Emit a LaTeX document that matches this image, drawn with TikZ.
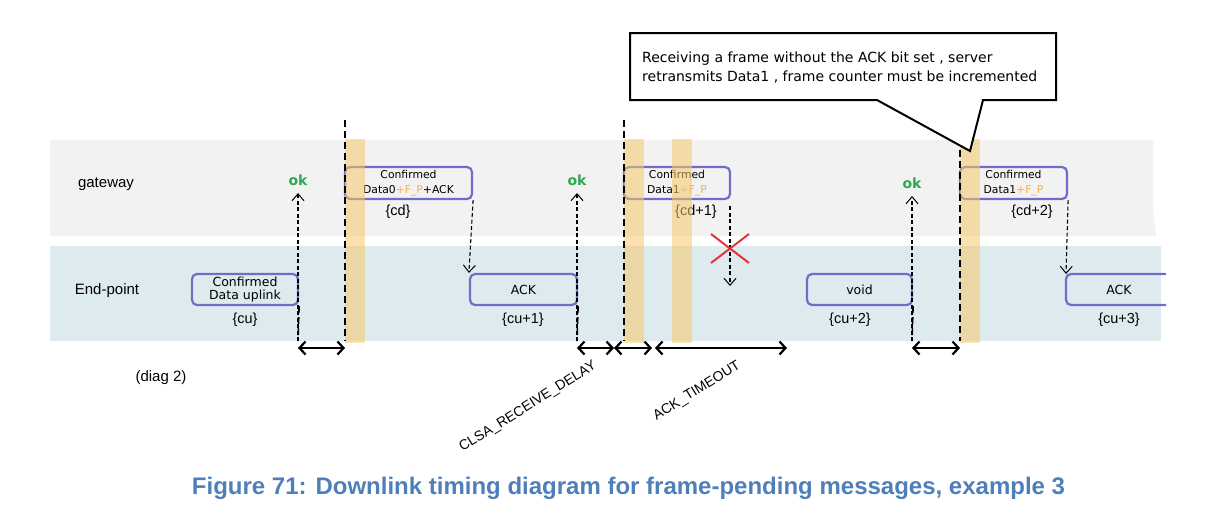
\documentclass[tikz,border=0pt]{standalone}
\usepackage{fontspec}
\setmainfont{Liberation Sans}
\newfontfamily\dv{DejaVu Sans}
\usetikzlibrary{arrows.meta}
\definecolor{bandgray}{HTML}{F2F2F2}
\definecolor{bandblue}{HTML}{DDEBEF}
\definecolor{stripecol}{HTML}{F5C86A}
\definecolor{boxblue}{HTML}{6E6EC8}
\definecolor{okgreen}{HTML}{2EA855}
\definecolor{fpcol}{HTML}{F5B04C}
\definecolor{xred}{HTML}{E8313C}
\definecolor{capblue}{HTML}{4F7FBA}
\tikzset{
  msgbox/.style={draw=boxblue, line width=2.2pt, rounded corners=5pt, inner sep=0pt,
    align=center, font=\dv\fontsize{12.5}{17}\selectfont},
  smallbox/.style={msgbox, font=\dv\fontsize{10.8}{15}\selectfont},
  cnt/.style={font=\fontsize{14.5}{17}\selectfont, inner sep=0pt},
  lane/.style={font=\fontsize{15}{18}\selectfont, inner sep=0pt},
  oklbl/.style={font=\dv\bfseries\fontsize{14}{16}\selectfont, text=okgreen, inner sep=0pt},
  stripe/.style={fill=stripecol, opacity=0.55},
  timeline/.style={line width=1.6pt, dash pattern=on 7pt off 4pt},
  msgarrow/.style={line width=1.1pt, dash pattern=on 4pt off 2.5pt, -{Straight Barb[length=7pt,width=12pt,line width=1pt]}},
  span/.style={line width=2.5pt, {Straight Barb[length=6pt,width=13pt,line width=2.2pt]}-{Straight Barb[length=6pt,width=13pt,line width=2.2pt]}},
  delaylbl/.style={font=\fontsize{14}{16}\selectfont, inner sep=0pt, rotate=32},
  crossline/.style={draw=xred, line width=2pt}
}
\newcommand{\fp}{\textcolor{fpcol}{+F\_P}}
\begin{document}
\begin{tikzpicture}[x=1pt,y=-1pt]
\useasboundingbox (0,0) rectangle (1214,520);
% bands
\fill[bandgray] (50,140) -- (1153,140) -- (1153,200) to[out=-90,in=95] (1156,236) -- (50,236) -- cycle;
\fill[bandblue] (50,246) rectangle (1161,341);
% lane labels
\node[lane] (gw) at (106,184) {gateway};
\node[lane] (ep) at (107,291) {End-point};
% message boxes
\node[msgbox, minimum width=106pt, minimum height=31pt] (b1) at (245,289.5) {\raisebox{-2pt}{\shortstack{Confirmed\\[0pt]Data uplink}}};
\node[smallbox, minimum width=127pt, minimum height=32pt] (b2) at (408.5,183) {Confirmed\\Data0\fp+ACK};
\node[msgbox, minimum width=107pt, minimum height=31pt] (a1) at (523.5,289.5) {ACK};
\node[smallbox, minimum width=106pt, minimum height=32pt] (b3) at (677,183) {Confirmed\\Data1\fp};
\node[msgbox, minimum width=105pt, minimum height=31pt] (v) at (859.5,289.5) {void};
\node[smallbox, minimum width=107pt, minimum height=32pt] (b4) at (1013.5,183) {Confirmed\\Data1\fp};
\draw[draw=boxblue, line width=2.2pt] (1166,274) -- (1071,274) arc[start angle=90,end angle=180,radius=5pt] -- (1066,300) arc[start angle=180,end angle=270,radius=5pt] -- (1166,305);
\node[msgbox, draw=none] (a2) at (1119,290) {ACK};
% counters
\node[cnt] (c1) at (245,320) {\{cu\}};
\node[cnt] (c2) at (398,212) {\{cd\}};
\node[cnt] (c3) at (523,320) {\{cu+1\}};
\node[cnt] (c4) at (696,212) {\{cd+1\}};
\node[cnt] (c5) at (850,320) {\{cu+2\}};
\node[cnt] (c6) at (1032,212) {\{cd+2\}};
\node[cnt] (c7) at (1119,320) {\{cu+3\}};
% ok labels
\node[oklbl] (ok1) at (298,180) {ok};
\node[oklbl] (ok2) at (577,180) {ok};
\node[oklbl] (ok3) at (912,183) {ok};
% coordinates
\coordinate (t1) at (298,341);
\coordinate (t2) at (577,341);
\coordinate (t3) at (912,341);
\coordinate (s1top) at (345,120); \coordinate (s1) at (345,341);
\coordinate (s2top) at (624,120); \coordinate (s2) at (624,341);
\coordinate (s3top) at (960,117); \coordinate (s3) at (960,341);
\coordinate (lost) at (730,286);
\coordinate (lostst) at (730,206);
% stripes
\fill[stripe] (345,139) rectangle (365,343);
\fill[stripe] (624,139) rectangle (644,343);
\fill[stripe] (672,139) rectangle (692,343);
\fill[stripe] (960,139) rectangle (980,343);
% time lines
\draw[timeline] (s1top) -- (s1);
\draw[timeline] (s2top) -- (s2);
\draw[timeline] (s3top) -- (s3);
\draw[timeline] (b1.south east) -- (t1);
\draw[timeline] (a1.south east) -- (t2);
\draw[timeline] (v.south east) -- (t3);
% message arrows
\draw[msgarrow] (t1) -- (ok1.south |- 0,193);
\draw[msgarrow] (t2) -- (ok2.south |- 0,193);
\draw[msgarrow] (t3) -- (ok3.south |- 0,196);
\draw[msgarrow] (b2.south east) -- (a1.north west);
\draw[msgarrow] (lostst) -- (lost);
\draw[msgarrow] (b4.south east) -- (1066,274);
% lost cross
\draw[crossline] (711,234) -- (749,263);
\draw[crossline] (711,263) -- (749,234);
% spans
\coordinate (d1a) at (298,348); \coordinate (d1b) at (345,348);
\coordinate (d2a) at (577,348); \coordinate (d2m) at (614,348); \coordinate (d2b) at (652,348);
\coordinate (d3a) at (655,348); \coordinate (d3b) at (787,348);
\coordinate (d4a) at (912,348); \coordinate (d4b) at (960,348);
\draw[span] (d1a) -- (d1b);
\draw[span] (d2a) -- (d2m);
\draw[span] (d2m) -- (d2b);
\draw[span] (d3a) -- (d3b);
\draw[span] (d4a) -- (d4b);
\node[delaylbl] (rxd) at (528,407) {CLSA\_RECEIVE\_DELAY};
\node[delaylbl] (ackt) at (697,391) {ACK\_TIMEOUT};
\node[lane] (diag) at (161,378) {(diag 2)};
% callout
\draw[line width=2pt, fill=white] (630,33) -- (1056,33) -- (1056,100) -- (983,100) -- (970,151) -- (877,100) -- (630,100) -- cycle;
\node[anchor=west, align=left, inner sep=0pt, font=\dv\fontsize{14}{19}\selectfont] (note) at (642,67.5)
  {Receiving a frame without the ACK bit set , server\\retransmits Data1 , frame counter must be incremented};
% caption
\node[font=\bfseries\fontsize{24}{28}\selectfont, text=capblue, inner sep=0pt] (cap) at (628.5,488)
  {Figure 71: Downlink timing diagram for frame-pending messages, example 3};
\end{tikzpicture}
\end{document}
